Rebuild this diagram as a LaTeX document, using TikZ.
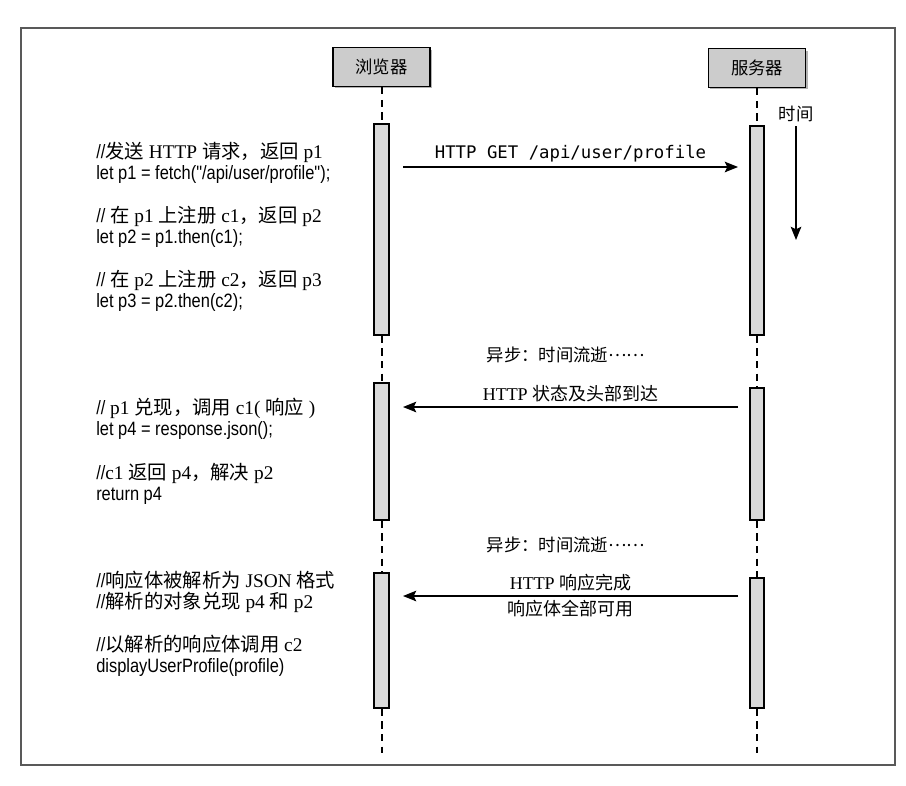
\documentclass[tikz,border=0pt]{standalone}
\usepackage{fontspec}
\setmainfont{Liberation Serif}
\newfontfamily\cjk{Noto Sans CJK SC}
\newfontfamily\codefont[FakeStretch=0.85]{Liberation Sans}
\newfontfamily\ttcode{DejaVu Sans Mono}
\newcommand{\zh}[1]{{\cjk #1}}
\newcommand{\middots}{\raisebox{0.3em}{……}}
\usetikzlibrary{arrows.meta,shadows,fit,positioning}

\begin{document}
\begin{tikzpicture}[x=0.75pt, y=-0.75pt,
		actor/.style={draw, line width=1.2pt, fill=gray!40, minimum width=73pt, minimum height=29pt,
			drop shadow={shadow xshift=1.5pt, shadow yshift=-1.5pt, opacity=0.6},
			font=\cjk\fontsize{13}{15}\selectfont},
		bar/.style={draw, line width=1pt, fill=gray!30, inner sep=0pt, fit={#1}},
		life/.style={line width=1.5pt, dash pattern=on 5.5pt off 4pt},
		msg/.style={-{Stealth[length=10pt, width=8pt, inset=2pt]}, line width=1pt},
		note/.style={anchor=west, align=left, inner sep=0pt, font=\fontsize{14.5}{16}\selectfont},
		lbl/.style={font=\fontsize{13.5}{16}\selectfont, inner sep=3pt}
	]
		\useasboundingbox (0,0) rectangle (906,785);
		\draw[line width=0.8pt, gray!70!black] (21,28) rectangle (895,765);
		
		\node[actor] (browser) at (381.5,67) {浏览器};
		\node[actor] (server) at (757,68) {服务器};
		
		\node[bar={(374,124) (389,335)}] (b1) {};
		\node[bar={(374,383) (389,520)}] (b2) {};
		\node[bar={(374,573) (389,708)}] (b3) {};
		\node[bar={(750,126) (764,335)}] (s1) {};
		\node[bar={(750,388) (764,520)}] (s2) {};
		\node[bar={(750,578) (764,708)}] (s3) {};
		\coordinate (bend) at (381.5,753);
		\coordinate (send) at (757,753);
		
		\draw[life] (browser.south) -- (b1.north);
		\draw[life] (b1.south) -- (b2.north);
		\draw[life] (b2.south) -- (b3.north);
		\draw[life] (b3.south) -- (bend);
		\draw[life] (server.south) -- (s1.north);
		\draw[life] (s1.south) -- (s2.north);
		\draw[life] (s2.south) -- (s3.north);
		\draw[life] (s3.south) -- (send);
		
		\node[lbl, font=\cjk\fontsize{13}{15}\selectfont] (time) at (796,114) {时间};
		\coordinate (tend) at (796,240);
		\draw[msg] (time.south) -- (tend);
		
		\coordinate (get0) at (403,167);
		\coordinate (get1) at (738,167);
		\coordinate (hdr0) at (738,407);
		\coordinate (hdr1) at (403,407);
		\coordinate (body0) at (738,596);
		\coordinate (body1) at (403,596);
		
		\draw[msg] (get0) -- node[above, lbl, font=\ttcode\fontsize{13}{15}\selectfont] {HTTP GET /api/user/profile} (get1);
		\node[lbl, font=\cjk\fontsize{13}{15}\selectfont] (async1) at (566,355) {异步：时间流逝\middots};
		\draw[msg] (hdr0) -- node[above, lbl] {HTTP \zh{状态及头部到达}} (hdr1);
		\node[lbl, font=\cjk\fontsize{13}{15}\selectfont] (async2) at (566,545) {异步：时间流逝\middots};
		\draw[msg] (body0) -- node[above, lbl] {HTTP \zh{响应完成}}
			node[below, lbl] {\zh{响应体全部可用}} (body1);
		
		\node[note] (sendreq) at (96,163) {{\codefont//}\zh{发送} HTTP \zh{请求，返回} p1\\
			{\codefont let p1 = fetch("/api/user/profile");}};
		\node[note] (thenc1) at (96,227) {{\codefont//} \zh{在} p1 \zh{上注册} c1\zh{，返回} p2\\
			{\codefont let p2 = p1.then(c1);}};
		\node[note] (thenc2) at (96,291) {{\codefont//} \zh{在} p2 \zh{上注册} c2\zh{，返回} p3\\
			{\codefont let p3 = p2.then(c2);}};
		\node[note] (fulfil) at (96,419) {{\codefont//} p1 \zh{兑现，调用} c1( \zh{响应} )\\
			{\codefont let p4 = response.json();}};
		\node[note] (retp4) at (96,484) {{\codefont//}c1 \zh{返回} p4\zh{，解决} p2\\
			{\codefont return p4}};
		\node[note] (parsed) at (96,592) {{\codefont//}\zh{响应体被解析为} JSON \zh{格式}\\
			{\codefont//}\zh{解析的对象兑现} p4 \zh{和} p2};
		\node[note] (callc2) at (96,656) {{\codefont//}\zh{以解析的响应体调用} c2\\
			{\codefont displayUserProfile(profile)}};
	\end{tikzpicture}
\end{document}
